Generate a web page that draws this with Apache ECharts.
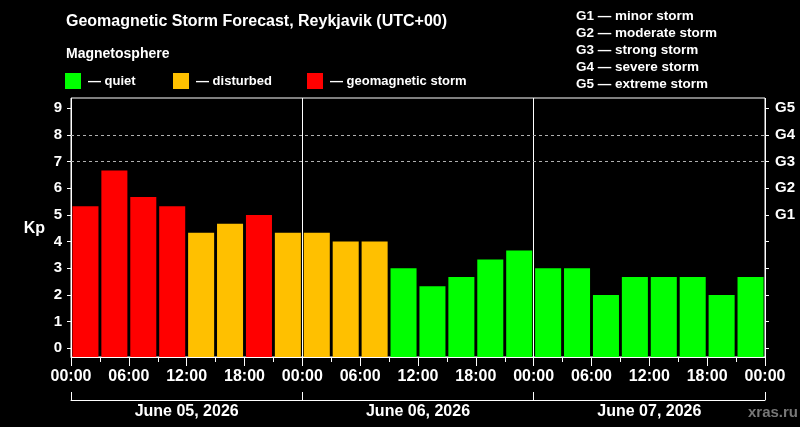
<!DOCTYPE html>
<html>
<head>
<meta charset="UTF-8">
<title>Geomagnetic Storm Forecast, Reykjavik</title>
<script src="https://cdn.jsdelivr.net/npm/echarts@6/dist/echarts.min.js"></script>
<style>
  html, body { margin: 0; padding: 0; background: #000; }
  #main { width: 800px; height: 427px; }
</style>
</head>
<body>
<div id="main"></div>
<script type="text/javascript">
// days and 3-hour slots
var days = ['June 05, 2026', 'June 06, 2026', 'June 07, 2026'];
var slots = ['00:00', '03:00', '06:00', '09:00', '12:00', '15:00', '18:00', '21:00'];
// Kp forecast, one value per 3-hour slot
var kp = [5.33, 6.67, 5.67, 5.33, 4.33, 4.67, 5, 4.33,
          4.33, 4, 4, 3, 2.33, 2.67, 3.33, 3.67,
          3, 3, 2, 2.67, 2.67, 2.67, 2, 2.67];
var hourLabels = ['00:00', '06:00', '12:00', '18:00'];
var stormLabels = ['G1', 'G2', 'G3', 'G4', 'G5'];
var stormNames = ['minor storm', 'moderate storm', 'strong storm', 'severe storm', 'extreme storm'];
var levelNames = ['quiet', 'disturbed', 'geomagnetic storm'];
var levelColors = ['#00ff00', '#ffc000', '#ff0000'];

var categories = [];
days.forEach(function (d) {
  slots.forEach(function (s) { categories.push(d + ' ' + s); });
});

function level(v) {
  if (v >= 5) return 2;
  if (v >= 4) return 1;
  return 0;
}

var font = 'Liberation Sans, Arial, sans-serif';
var yMin = -0.326, yMax = 9.385;

var series = levelNames.map(function (name, i) {
  return {
    name: name,
    type: 'bar',
    xAxisIndex: 0,
    yAxisIndex: 0,
    barGap: '-100%',
    barCategoryGap: '10%',
    itemStyle: { color: levelColors[i] },
    data: kp.map(function (v) { return level(v) === i ? v : '-'; })
  };
});
// dotted G3 / G4 levels
series[0].markLine = {
  silent: true,
  symbol: 'none',
  label: { show: false },
  lineStyle: { color: '#b0b0b0', type: [3, 3], width: 1 },
  data: [{ yAxis: 7 }, { yAxis: 8 }]
};

var legends = levelNames.map(function (name, i) {
  return {
    data: [name],
    left: [65, 173, 307][i],
    top: 73,
    padding: 0,
    icon: 'rect',
    itemWidth: 16,
    itemHeight: 16,
    selectedMode: false,
    formatter: '\u2014 {name}',
    textStyle: { color: '#fff', fontFamily: font, fontWeight: 'bold', fontSize: 13, padding: [0, 0, 0, 2] }
  };
});

var tickStyle = { color: '#fff', width: 1 };

var option = {
  backgroundColor: '#000',
  animation: false,
  title: [{
    text: 'Geomagnetic Storm Forecast, Reykjavik (UTC+00)',
    left: 66, top: 14, padding: 0,
    textStyle: { color: '#fff', fontFamily: font, fontWeight: 'bold', fontSize: 16 }
  }, {
    text: 'Magnetosphere',
    left: 66, top: 47, padding: 0,
    textStyle: { color: '#fff', fontFamily: font, fontWeight: 'bold', fontSize: 14 }
  }],
  legend: legends,
  graphic: [{
    type: 'text',
    left: 576, top: 8,
    style: {
      text: stormLabels.map(function (g, i) { return g + ' \u2014 ' + stormNames[i]; }).join('\n'),
      fill: '#fff',
      font: 'bold 13.5px ' + font,
      lineHeight: 17
    }
  }, {
    type: 'text',
    left: 748, top: 405,
    style: { text: 'xras.ru', fill: '#777', font: 'bold 15px ' + font }
  }],
  grid: [
    { left: 71, right: 35, top: 98, bottom: 70, show: true, borderColor: '#fff', borderWidth: 1, backgroundColor: 'transparent' },
    { left: 71, right: 35, top: 108.3, bottom: 78.7 }
  ],
  xAxis: [{
    type: 'category', gridIndex: 0, data: categories, show: false
  }, {
    type: 'value', gridIndex: 0, position: 'bottom', min: 0, max: 72, interval: 6,
    axisLine: { show: true, lineStyle: tickStyle },
    axisTick: { show: true, length: 9, lineStyle: tickStyle },
    minorTick: { show: true, splitNumber: 2, length: 5, lineStyle: tickStyle },
    splitLine: { show: false },
    minorSplitLine: { show: false },
    axisLabel: {
      color: '#fff', fontFamily: font, fontWeight: 'bold', fontSize: 16, margin: 12,
      showMinLabel: true, showMaxLabel: true,
      formatter: function (v) { return hourLabels[(v % 24) / 6]; }
    }
  }, {
    type: 'category', gridIndex: 0, position: 'bottom', offset: 43, data: days,
    axisLine: { show: true, lineStyle: tickStyle },
    axisTick: { show: true, inside: true, length: 8, interval: 0, lineStyle: tickStyle },
    splitLine: { show: true, interval: 0, lineStyle: tickStyle },
    axisLabel: { color: '#fff', fontFamily: font, fontWeight: 'bold', fontSize: 16, margin: 4, interval: 0 }
  }, {
    type: 'value', gridIndex: 1, show: false, min: 0, max: 1
  }],
  yAxis: [{
    type: 'value', gridIndex: 0, min: yMin, max: yMax, startValue: yMin, show: false,
    splitLine: { show: false }
  }, {
    type: 'value', gridIndex: 1, position: 'left', min: 0, max: 9, interval: 1,
    axisLine: { show: false },
    axisTick: { show: true, length: 4, lineStyle: tickStyle },
    splitLine: { show: false },
    axisLabel: { color: '#fff', fontFamily: font, fontWeight: 'bold', fontSize: 15, margin: 9 },
    name: 'Kp', nameLocation: 'middle', nameRotate: 0, nameGap: 26,
    nameTextStyle: { color: '#fff', fontFamily: font, fontWeight: 'bold', fontSize: 16 }
  }, {
    type: 'value', gridIndex: 1, position: 'right', min: 0, max: 9, interval: 1,
    axisLine: { show: false },
    axisTick: { show: true, length: 4, lineStyle: tickStyle },
    splitLine: { show: false },
    axisLabel: {
      color: '#fff', fontFamily: font, fontWeight: 'bold', fontSize: 15, margin: 10,
      formatter: function (v) { return v >= 5 ? stormLabels[v - 5] : ''; }
    }
  }],
  series: series
};

var myChart = echarts.init(document.getElementById('main'));
myChart.setOption(option);
</script>
</body>
</html>
